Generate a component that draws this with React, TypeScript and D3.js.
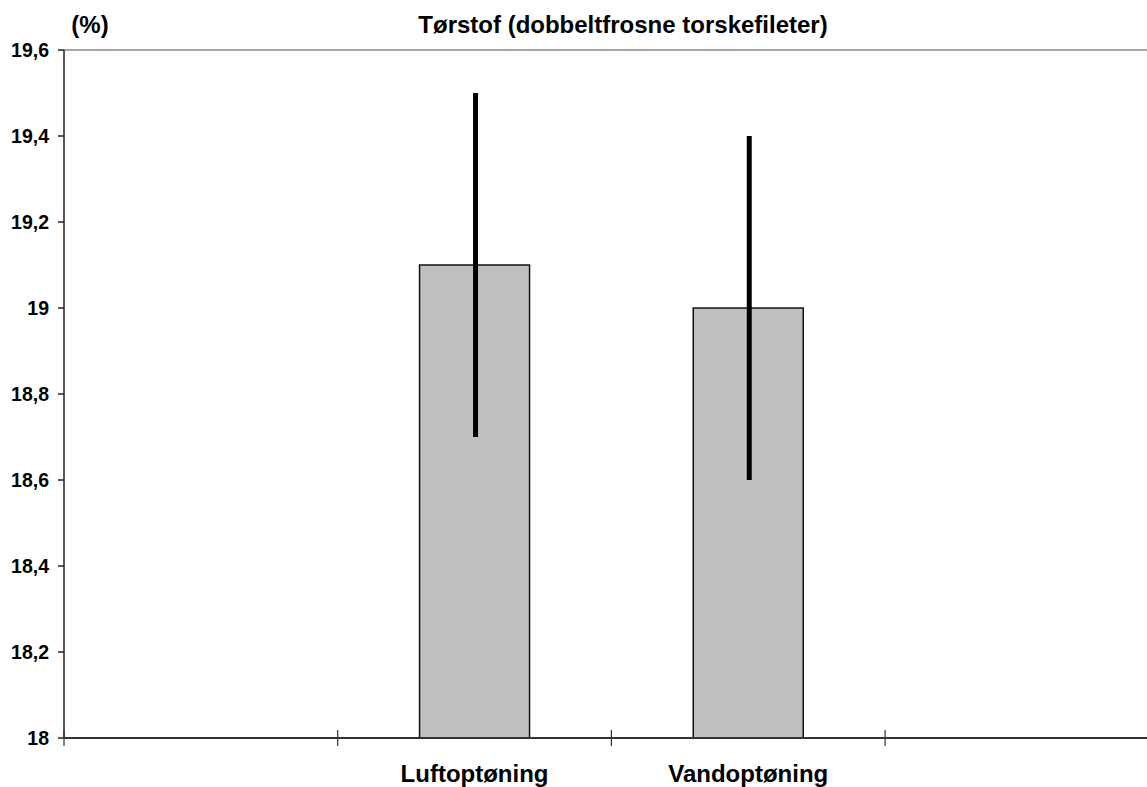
import React from "react";
import * as d3 from "d3";

const categories = ["", "Luftoptøning", "Vandoptøning", " "];
const values = [null, 19.1, 19.0, null];
const errLow = [null, 18.7, 18.6, null];
const errHigh = [null, 19.5, 19.4, null];
const yTicks = [18, 18.2, 18.4, 18.6, 18.8, 19, 19.2, 19.4, 19.6];
const title = "Tørstof (dobbeltfrosne torskefileter)";
const unitLabel = "(%)";

export default function App() {
  const W = 1147, H = 787;
  const left = 64, top = 50, bottom = 738;
  const x = d3.scaleBand<string>().domain(categories).range([left, left + 4 * 273.7]).paddingInner(0).paddingOuter(0);
  const y = d3.scaleLinear().domain([18, 19.6]).range([bottom, top]);
  const bw = 110;
  const fmt = (v: number) => (Number.isInteger(v) ? String(v) : v.toFixed(1).replace(".", ","));
  const font = "'Liberation Sans', Arial, sans-serif";
  const boundaries = [0, 1, 2, 3].map((i) => left + i * x.bandwidth());
  return (
    <svg width={W} height={H} style={{ position: "absolute", left: 0, top: 0, background: "#fff" }}>
      <line x1={left} x2={W} y1={top} y2={top} stroke="#888" strokeWidth={1.5} />
      {categories.map((c, i) => {
        const v = values[i];
        if (v == null) return null;
        const cx = (x(c) as number) + x.bandwidth() / 2;
        return (
          <g key={i}>
            <rect x={cx - bw / 2} y={y(v)} width={bw} height={bottom - y(v)} fill="#c0c0c0" stroke="#111" strokeWidth={1.5} />
            <line x1={cx + 1} x2={cx + 1} y1={y(errHigh[i] as number)} y2={y(errLow[i] as number)} stroke="#000" strokeWidth={5} />
          </g>
        );
      })}
      <line x1={left} x2={left} y1={top} y2={bottom} stroke="#222" strokeWidth={1.5} />
      <line x1={left} x2={W} y1={bottom} y2={bottom} stroke="#333" strokeWidth={2} />
      {yTicks.map((t) => (
        <g key={t}>
          <line x1={left - 6} x2={left} y1={y(t)} y2={y(t)} stroke="#222" strokeWidth={1.5} />
          <text x={49} y={y(t) + 7} textAnchor="end" fontFamily={font} fontWeight="bold" fontSize={19.5} fill="#000">
            {fmt(t)}
          </text>
        </g>
      ))}
      {boundaries.map((b, i) => (
        <line key={i} x1={b} x2={b} y1={bottom - 8} y2={bottom + 8} stroke="#333" strokeWidth={1.2} />
      ))}
      {categories.map((c, i) =>
        values[i] == null ? null : (
          <text key={i} x={(x(c) as number) + x.bandwidth() / 2} y={782} textAnchor="middle" fontFamily={font} fontWeight="bold" fontSize={24} fill="#000">
            {c}
          </text>
        )
      )}
      <text x={623} y={33} textAnchor="middle" fontFamily={font} fontWeight="bold" fontSize={24} fill="#000">{title}</text>
      <text x={90} y={33} textAnchor="middle" fontFamily={font} fontWeight="bold" fontSize={24} fill="#000">{unitLabel}</text>
    </svg>
  );
}
